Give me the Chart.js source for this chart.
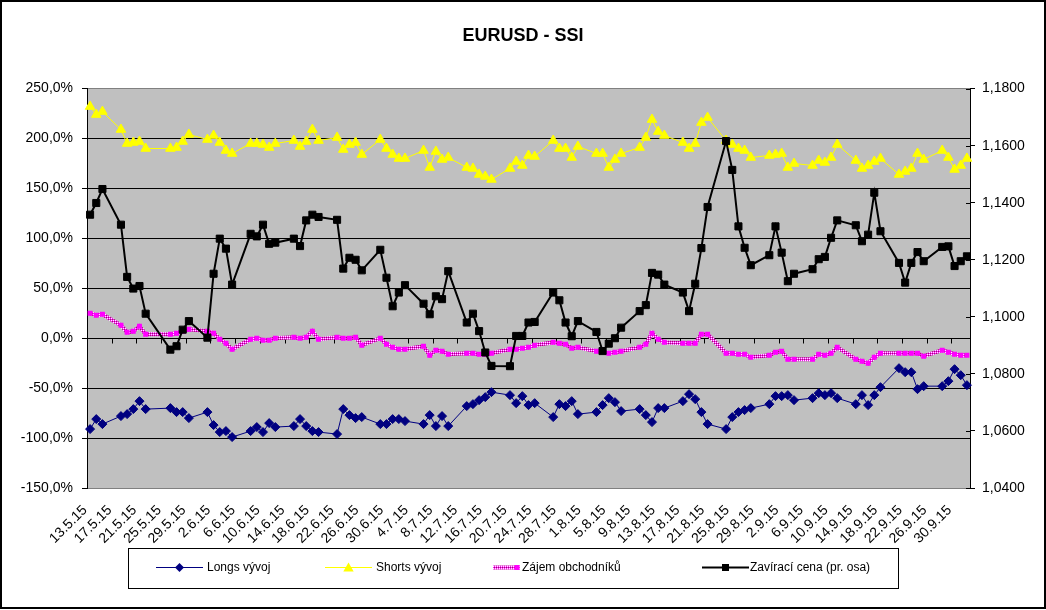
<!DOCTYPE html>
<html lang="cs">
<head>
<meta charset="utf-8">
<title>EURUSD - SSI</title>
<script src="https://cdn.jsdelivr.net/npm/chart.js@4.4.1/dist/chart.umd.min.js"></script>
<style>
  html, body { margin: 0; padding: 0; background: #fff; }
  canvas { display: block; }
</style>
</head>
<body>
<canvas id="ssiChart" width="1046" height="610"></canvas>
<script>
// --- Data ---
const tradingDays = [
    '13.5.15', '14.5.15', '15.5.15', '18.5.15', '19.5.15', '20.5.15', '21.5.15', '22.5.15', '26.5.15', '27.5.15', '28.5.15', '29.5.15',
    '1.6.15', '2.6.15', '3.6.15', '4.6.15', '5.6.15', '8.6.15', '9.6.15', '10.6.15', '11.6.15', '12.6.15',
    '15.6.15', '16.6.15', '17.6.15', '18.6.15', '19.6.15', '22.6.15', '23.6.15', '24.6.15', '25.6.15', '26.6.15',
    '29.6.15', '30.6.15', '1.7.15', '2.7.15', '3.7.15', '6.7.15', '7.7.15', '8.7.15', '9.7.15', '10.7.15',
    '13.7.15', '14.7.15', '15.7.15', '16.7.15', '17.7.15', '20.7.15', '21.7.15', '22.7.15', '23.7.15', '24.7.15',
    '27.7.15', '28.7.15', '29.7.15', '30.7.15', '31.7.15', '3.8.15', '4.8.15', '5.8.15', '6.8.15', '7.8.15',
    '10.8.15', '11.8.15', '12.8.15', '13.8.15', '14.8.15', '17.8.15', '18.8.15', '19.8.15', '20.8.15', '21.8.15',
    '24.8.15', '25.8.15', '26.8.15', '27.8.15', '28.8.15', '31.8.15', '1.9.15', '2.9.15', '3.9.15', '4.9.15',
    '7.9.15', '8.9.15', '9.9.15', '10.9.15', '11.9.15', '14.9.15', '15.9.15', '16.9.15', '17.9.15', '18.9.15',
    '21.9.15', '22.9.15', '23.9.15', '24.9.15', '25.9.15', '28.9.15', '29.9.15', '30.9.15', '1.10.15', '2.10.15'
];

const longs = [
    -91, -81, -86, -78, -76, -71, -63, -71, -70, -74, -74, -80,
    -74, -87, -94, -93, -99, -93, -89, -94, -85, -89,
    -88, -81, -88, -93, -94, -96, -71, -77, -80, -79,
    -86, -86, -81, -81, -83, -86, -77, -88, -78, -88,
    -68, -66, -62, -59, -54, -57, -65, -58, -67, -65,
    -79, -66, -68, -63, -76, -74, -67, -60, -64, -73,
    -71, -77, -84, -70, -70, -63, -56, -61, -74, -86,
    -91, -79, -74, -72, -70, -66, -58, -58, -57, -62,
    -60, -55, -57, -55, -60, -66, -57, -67, -57, -49,
    -30, -34, -34, -51, -48, -48, -43, -31, -37, -47
];

const shorts = [
    232, 224, 227, 209, 195, 196, 197, 190, 190, 191, 197, 204,
    199, 203, 196, 188, 185, 195, 195, 194, 191, 195,
    198, 192, 197, 209, 198, 201, 189, 194, 196, 184,
    199, 190, 184, 180, 180, 188, 171, 187, 179, 181,
    171, 170, 164, 162, 159, 170, 177, 173, 183, 182,
    198, 190, 190, 181, 192, 185, 185, 171, 179, 185,
    191, 201, 219, 207, 203, 196, 190, 195, 216, 221,
    198, 194, 190, 188, 181, 183, 184, 185, 171, 175,
    173, 178, 176, 181, 194, 178, 170, 173, 177, 180,
    164, 167, 170, 185, 179, 188, 181, 169, 173, 180
];

const interest = [
    25, 23, 24, 13, 6, 7, 12, 4, 4, 5, 7, 9,
    7, 5, -1, -5, -11, -1, 0, -2, -2, 0,
    1, 0, 1, 7, -1, 1, 0, 0, 1, -7,
    0, -6, -9, -11, -11, -8, -17, -12, -13, -16,
    -15, -15, -16, -16, -15, -11, -11, -10, -9, -7,
    -4, -5, -6, -10, -9, -13, -13, -15, -14, -13,
    -9, -6, 5, -1, -4, -5, -5, -5, 4, 4,
    -15, -15, -16, -16, -19, -17, -14, -13, -21, -21,
    -21, -16, -17, -15, -9, -21, -23, -25, -19, -15,
    -15, -15, -15, -15, -18, -12, -14, -16, -17, -17
];

const closePrice = [
    1.1358, 1.1399, 1.1448, 1.1323, 1.1140, 1.1099, 1.1108, 1.1011, 1.0885, 1.0897, 1.0955, 1.0985,
    1.0927, 1.1151, 1.1274, 1.1239, 1.1113, 1.1291, 1.1282, 1.1323, 1.1256, 1.1260,
    1.1274, 1.1248, 1.1338, 1.1358, 1.1350, 1.1340, 1.1169, 1.1207, 1.1200, 1.1163,
    1.1235, 1.1137, 1.1037, 1.1085, 1.1111, 1.1046, 1.1009, 1.1072, 1.1062, 1.1160,
    1.0980, 1.1011, 1.0950, 1.0875, 1.0828, 1.0827, 1.0933, 1.0933, 1.0980, 1.0982,
    1.1085, 1.1058, 1.0980, 1.0932, 1.0985, 1.0947, 1.0880, 1.0906, 1.0925, 1.0962,
    1.1020, 1.1041, 1.1154, 1.1148, 1.1113, 1.1085, 1.1020, 1.1116, 1.1241, 1.1385,
    1.1616, 1.1515, 1.1317, 1.1242, 1.1181, 1.1216, 1.1317, 1.1225, 1.1125, 1.1151,
    1.1167, 1.1202, 1.1210, 1.1277, 1.1338, 1.1321, 1.1265, 1.1288, 1.1435, 1.1300,
    1.1189, 1.1120, 1.1189, 1.1227, 1.1195, 1.1245, 1.1247, 1.1178, 1.1195, 1.1212
];

const percentTicks = [-150, -100, -50, 0, 50, 100, 150, 200, 250];
const priceTicks = [1.04, 1.06, 1.08, 1.10, 1.12, 1.14, 1.16, 1.18];
const labelEvery = 4;

const seriesNames = ['Longs vývoj', 'Shorts vývoj', 'Zájem obchodníků', 'Zavírací cena (pr. osa)'];

// --- Date axis: one category per calendar day, gaps on weekends/holidays ---
const parseDay = s => {
    const [d, m, y] = s.split('.').map(Number);
    return new Date(2000 + y, m - 1, d);
};
const formatDay = dt => `${dt.getDate()}.${dt.getMonth() + 1}.${String(dt.getFullYear()).slice(2)}`;

const allDays = [];
const lastDay = parseDay(tradingDays[tradingDays.length - 1]);
for (let dt = parseDay(tradingDays[0]); dt <= lastDay; dt.setDate(dt.getDate() + 1)) {
    allDays.push(formatDay(dt));
}
const byDay = series => allDays.map(day => {
    const i = tradingDays.indexOf(day);
    return i < 0 ? null : series[i];
});

// --- Patterned line for "Zájem obchodníků" ---
const patternCanvas = document.createElement('canvas');
patternCanvas.width = 2;
patternCanvas.height = 2;
const pctx = patternCanvas.getContext('2d');
pctx.fillStyle = '#ff00ff'; pctx.fillRect(0, 0, 1, 1); pctx.fillRect(1, 1, 1, 1);
pctx.fillStyle = '#ffffff'; pctx.fillRect(1, 0, 1, 1);
pctx.fillStyle = '#993366'; pctx.fillRect(0, 1, 1, 1);
const interestPattern = pctx.createPattern(patternCanvas, 'repeat');

Chart.defaults.font.family = "'Liberation Sans', Arial, sans-serif";
Chart.defaults.font.size = 14;
Chart.defaults.color = '#000';

// --- Drawing helpers for the plot area, axis marks and the boxed legend ---
const drawMarker = (ctx, style, x, y, r, color) => {
    ctx.fillStyle = color;
    ctx.beginPath();
    if (style === 'diamond') {
        ctx.moveTo(x, y - r); ctx.lineTo(x + r, y); ctx.lineTo(x, y + r); ctx.lineTo(x - r, y);
    } else if (style === 'triangle') {
        ctx.moveTo(x, y - r); ctx.lineTo(x + r * 0.866, y + r * 0.5); ctx.lineTo(x - r * 0.866, y + r * 0.5);
    } else {
        ctx.rect(x - r, y - r, 2 * r, 2 * r);
    }
    ctx.closePath();
    ctx.fill();
};

const excelLook = {
    id: 'excelLook',
    beforeDraw(chart) {
        const { ctx, chartArea: a } = chart;
        ctx.save();
        ctx.fillStyle = '#fff';
        ctx.fillRect(0, 0, chart.width, chart.height);
        ctx.fillStyle = '#c0c0c0';
        ctx.fillRect(a.left, a.top, a.right - a.left, a.bottom - a.top);
        ctx.restore();
    },
    beforeDatasetsDraw(chart) {
        const { ctx, scales } = chart;
        const x = scales.x, y = scales.y, y1 = scales.y1;
        const half = (x.getPixelForValue(1) - x.getPixelForValue(0)) / 2;
        const zero = Math.round(y.getPixelForValue(0)) + 0.5;
        ctx.save();
        ctx.strokeStyle = '#000';
        ctx.lineWidth = 1;
        ctx.beginPath();
        // tick marks of the date axis sit on the 0 % line
        for (let i = labelEvery; i < allDays.length; i += labelEvery) {
            const px = Math.round(x.getPixelForValue(i) - half) + 0.5;
            ctx.moveTo(px, zero);
            ctx.lineTo(px, zero + 5);
        }
        // secondary axis ticks cross the axis line
        priceTicks.forEach(v => {
            const py = Math.round(y1.getPixelForValue(v)) + 0.5;
            ctx.moveTo(y1.left - 4, py);
            ctx.lineTo(y1.left, py);
        });
        ctx.stroke();
        ctx.restore();
    },
    afterDraw(chart) {
        const { ctx } = chart;
        ctx.save();
        // legend box
        ctx.strokeStyle = '#000';
        ctx.lineWidth = 1;
        ctx.strokeRect(128.5, 548.5, 770, 40);
        const cy = 567.5;
        ctx.font = "12px 'Liberation Sans', Arial, sans-serif";
        ctx.textBaseline = 'middle';
        ctx.textAlign = 'left';

        ctx.strokeStyle = '#000080';
        ctx.beginPath(); ctx.moveTo(156, cy); ctx.lineTo(203, cy); ctx.stroke();
        drawMarker(ctx, 'diamond', 179.5, cy, 4.5, '#000080');
        ctx.fillStyle = '#000'; ctx.fillText(seriesNames[0], 207, cy + 0.5);

        ctx.strokeStyle = '#ffff00';
        ctx.beginPath(); ctx.moveTo(325, cy); ctx.lineTo(372, cy); ctx.stroke();
        drawMarker(ctx, 'triangle', 348.5, cy + 1, 6, '#ffff00');
        ctx.fillStyle = '#000'; ctx.fillText(seriesNames[1], 376, cy + 0.5);

        ctx.strokeStyle = interestPattern;
        ctx.lineWidth = 4;
        ctx.beginPath(); ctx.moveTo(493, cy); ctx.lineTo(520, cy); ctx.stroke();
        drawMarker(ctx, 'square', 517, cy, 2.5, '#ff00ff');
        ctx.fillStyle = '#000'; ctx.fillText(seriesNames[2], 522, cy + 0.5);

        ctx.strokeStyle = '#000';
        ctx.lineWidth = 2;
        ctx.beginPath(); ctx.moveTo(702, cy); ctx.lineTo(749, cy); ctx.stroke();
        drawMarker(ctx, 'square', 725.5, cy, 3.5, '#000');
        ctx.fillStyle = '#000'; ctx.fillText(seriesNames[3], 750, cy + 0.5);

        // outer frame
        ctx.lineWidth = 2;
        ctx.strokeRect(1, 1, 1044, 607);
        ctx.restore();
    }
};

const edgeGray = v => (v === percentTicks[0] || v === percentTicks[percentTicks.length - 1]) ? '#808080' : '#000';

new Chart(document.getElementById('ssiChart'), {
    type: 'line',
    data: {
        labels: allDays,
        datasets: [
            {
                label: seriesNames[0],
                data: byDay(longs),
                yAxisID: 'y',
                order: 4,
                borderColor: '#000080',
                borderWidth: 1,
                pointStyle: 'rectRot',
                pointRadius: 4.5,
                pointBackgroundColor: '#000080',
                pointBorderColor: '#000080',
                pointBorderWidth: 1
            },
            {
                label: seriesNames[1],
                data: byDay(shorts),
                yAxisID: 'y',
                order: 3,
                borderColor: '#ffff00',
                borderWidth: 1,
                pointStyle: 'triangle',
                pointRadius: 5.5,
                pointBackgroundColor: '#ffff00',
                pointBorderColor: '#ffff00',
                pointBorderWidth: 1
            },
            {
                label: seriesNames[2],
                data: byDay(interest),
                yAxisID: 'y',
                order: 2,
                borderColor: interestPattern,
                borderWidth: 4,
                pointStyle: 'rect',
                pointRadius: 3.5,
                pointBackgroundColor: '#ff00ff',
                pointBorderColor: '#ff00ff',
                pointBorderWidth: 0
            },
            {
                label: seriesNames[3],
                data: byDay(closePrice),
                yAxisID: 'y1',
                order: 1,
                borderColor: '#000',
                borderWidth: 2,
                pointStyle: 'rect',
                pointRadius: 5,
                pointBackgroundColor: '#000',
                pointBorderColor: '#000',
                pointBorderWidth: 1
            }
        ]
    },
    options: {
        responsive: false,
        animation: false,
        devicePixelRatio: 1,
        spanGaps: true,
        elements: { line: { tension: 0 } },
        layout: { padding: 0 },
        plugins: {
            legend: { display: false },
            tooltip: { enabled: false },
            title: {
                display: true,
                text: 'EURUSD - SSI',
                font: { size: 18, weight: 'bold' },
                padding: { top: 25, bottom: 42 }
            }
        },
        scales: {
            x: {
                type: 'category',
                offset: true,
                grid: { display: false },
                border: { display: true, color: '#808080' },
                ticks: {
                    autoSkip: false,
                    minRotation: 45,
                    maxRotation: 45,
                    padding: 6,
                    labelOffset: -5,
                    callback: (value, index) => index % labelEvery === 0 ? allDays[index] : ''
                },
                afterFit: scale => { scale.height = 122; }
            },
            y: {
                position: 'left',
                min: percentTicks[0],
                max: percentTicks[percentTicks.length - 1],
                afterBuildTicks: scale => { scale.ticks = percentTicks.map(v => ({ value: v })); },
                grid: {
                    color: ctx => edgeGray(ctx.tick && ctx.tick.value),
                    tickColor: '#000',
                    tickLength: 5,
                    lineWidth: 1
                },
                border: { color: '#000' },
                ticks: {
                    padding: 9,
                    callback: v => v.toFixed(1).replace('.', ',') + '%'
                },
                afterFit: scale => { scale.width = 87; }
            },
            y1: {
                position: 'right',
                min: priceTicks[0],
                max: priceTicks[priceTicks.length - 1],
                afterBuildTicks: scale => { scale.ticks = priceTicks.map(v => ({ value: v })); },
                grid: { drawOnChartArea: false, tickColor: '#000', tickLength: 5 },
                border: { color: '#000' },
                ticks: {
                    padding: 7,
                    callback: v => v.toFixed(4).replace('.', ',')
                },
                afterFit: scale => { scale.width = 76; }
            }
        }
    },
    plugins: [excelLook]
});
</script>
</body>
</html>
